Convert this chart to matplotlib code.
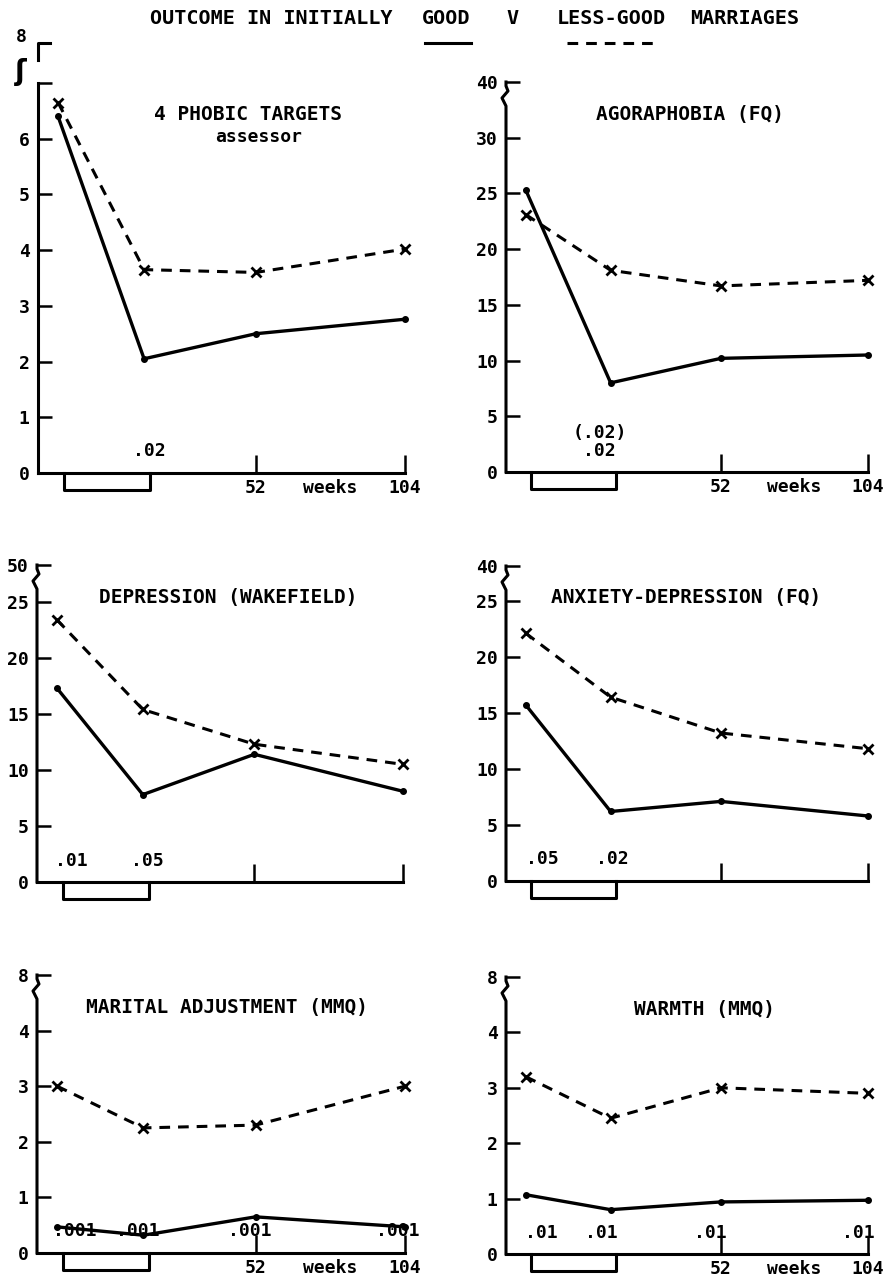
import numpy as np
import matplotlib.pyplot as plt

# --- data ---
weeks = [-17, 13, 52, 104]          # pre, post, 52 wk, 104 wk
treatment = [-15, 15]               # treatment period (bracket under axis)

phobic_good = [6.4, 2.05, 2.5, 2.76]
phobic_less = [6.65, 3.65, 3.6, 4.02]
agora_good = [25.3, 8.0, 10.2, 10.5]
agora_less = [23.1, 18.1, 16.7, 17.2]
depr_good = [17.3, 7.8, 11.4, 8.1]
depr_less = [23.4, 15.4, 12.3, 10.5]
anxdep_good = [15.7, 6.2, 7.1, 5.8]
anxdep_less = [22.1, 16.4, 13.2, 11.8]
marital_good = [0.47, 0.32, 0.65, 0.47]
marital_less = [3.0, 2.25, 2.3, 3.0]
warmth_good = [1.07, 0.8, 0.94, 0.97]
warmth_less = [3.2, 2.45, 3.0, 2.9]

phobic_p = ["", ".02", "", ""]
agora_p = ["", ".02", "", ""]
depr_p = [".01", ".05", "", ""]
anxdep_p = [".05", ".02", "", ""]
marital_p = [".001", ".001", ".001", ".001"]
warmth_p = [".01", ".01", ".01", ".01"]

W, H = 888, 1279
FONT = "DejaVu Sans Mono"
LW = 2.2

fig = plt.figure(figsize=(W / 100, H / 100), dpi=100)
fig.patch.set_facecolor("white")


def make_ax(l, t, r, b):
    return fig.add_axes([l / W, 1 - b / H, (r - l) / W, (b - t) / H]), r - l, b - t


def panel(box, good, less, title, title_x, yticks, ylabels, pvals, pdx,
          week_labels=True, brk=True, sub=None):
    ax, wpx, hpx = make_ax(*box)
    ymax = yticks[-1]
    ax.set_xlim(-24, 104)
    ax.set_ylim(0, ymax)
    for s in ["top", "right", "left"]:
        ax.spines[s].set_visible(False)
    ax.spines["bottom"].set_linewidth(LW)

    # y axis drawn by hand so it can carry the break mark
    if brk:
        xs = [0, 0, 2 / wpx, -4 / wpx, 0, 0]
        ys = [1, 1 - 4 / hpx, 1 - 9 / hpx, 1 - 16 / hpx, 1 - 24 / hpx, 0]
    else:
        xs, ys = [0, 0], [1, 0]
    ax.plot(xs, ys, transform=ax.transAxes, color="k", lw=LW,
            clip_on=False, solid_joinstyle="round")

    ax.set_yticks(yticks)
    ax.set_yticklabels(ylabels)
    ax.tick_params(axis="y", direction="in", length=10, width=1.8, pad=6,
                   labelsize=13)
    ax.set_xticks([52, 104])
    if week_labels:
        ax.set_xticklabels(["52", "104"])
        ax.annotate("weeks", (78, 0), xytext=(0, -4), textcoords="offset points",
                    ha="center", va="top", fontsize=13, fontweight="bold",
                    family=FONT)
    else:
        ax.set_xticklabels(["", ""])
    ax.tick_params(axis="x", direction="in", length=13, width=1.8, pad=4,
                   labelsize=13)
    for lab in ax.get_xticklabels() + ax.get_yticklabels():
        lab.set_fontweight("bold")
        lab.set_family(FONT)

    # treatment bracket under the axis
    d = 17 / hpx
    ax.plot([treatment[0], treatment[0], treatment[1], treatment[1]],
            [0, -d, -d, 0], transform=ax.get_xaxis_transform(),
            color="k", lw=LW, clip_on=False)

    ax.plot(weeks, good, color="k", lw=2.4, marker="o", ms=4,
            clip_on=False, solid_joinstyle="round")
    ax.plot(weeks, less, color="k", lw=2.2, ls=(0, (3.5, 2.6)), marker="x",
            ms=7, mew=2, clip_on=False)

    for x, p, dx in zip(weeks, pvals, pdx):
        if p:
            ax.annotate(p, (x, 0), xytext=(dx, 9), textcoords="offset points",
                        ha="center", va="bottom", fontsize=13,
                        fontweight="bold", family=FONT)

    tx = (title_x - box[0]) / wpx
    ax.text(tx, 1 - 32 / hpx, title, transform=ax.transAxes, ha="center",
            va="center", fontsize=14, fontweight="bold", family=FONT)
    if sub:
        ax.text(tx + 0.03, 1 - 54 / hpx, sub, transform=ax.transAxes,
                ha="center", va="center", fontsize=13, fontweight="bold",
                family=FONT)
    return ax, wpx, hpx


# --- top-left ---
ax1, w1, h1 = panel((38, 83, 405, 473), phobic_good, phobic_less,
                    "4 PHOBIC TARGETS", 248, [0, 1, 2, 3, 4, 5, 6, 7],
                    ["0", "1", "2", "3", "4", "5", "6", ""], phobic_p,
                    [0, 4, 0, 0], brk=False, sub="assessor")
# short stub above the axis standing for 8
ax1.plot([0, 0, 12 / w1], [7.41, 7.72, 7.72], color="k", lw=LW,
         transform=ax1.get_yaxis_transform(), clip_on=False)
ax1.text(-17 / w1, 7.66, "8", transform=ax1.get_yaxis_transform(),
         ha="center", va="bottom", fontsize=13, fontweight="bold", family=FONT)
ax1.text(-17 / w1, 7.2, "ʃ", transform=ax1.get_yaxis_transform(),
         ha="center", va="center", fontsize=20, fontweight="bold")

# --- top-right ---
panel((506, 82, 868, 472), agora_good, agora_less, "AGORAPHOBIA (FQ)", 690,
      [0, 5, 10, 15, 20, 25, 30, 35],
      ["0", "5", "10", "15", "20", "25", "30", "40"], agora_p, [-4, -8, 0, 0])
fig.text(600 / W, 1 - 433 / H, "(.02)", ha="center", va="center",
         fontsize=13, fontweight="bold", family=FONT)

# --- middle ---
panel((37, 565, 403, 882), depr_good, depr_less, "DEPRESSION (WAKEFIELD)", 228,
      [0, 5, 10, 15, 20, 25, 28.3],
      ["0", "5", "10", "15", "20", "25", "50"], depr_p, [10, 3, 0, 0],
      week_labels=False)
panel((506, 566, 868, 881), anxdep_good, anxdep_less,
      "ANXIETY-DEPRESSION (FQ)", 686, [0, 5, 10, 15, 20, 25, 28.1],
      ["0", "5", "10", "15", "20", "25", "40"], anxdep_p, [12, 1, 0, 0],
      week_labels=False)

# --- bottom ---
panel((37, 975, 405, 1253), marital_good, marital_less,
      "MARITAL ADJUSTMENT (MMQ)", 227, [0, 1, 2, 3, 4, 5],
      ["0", "1", "2", "3", "4", "8"], marital_p, [13, -4, -4, -5])
panel((506, 977, 868, 1254), warmth_good, warmth_less, "WARMTH (MMQ)", 704,
      [0, 1, 2, 3, 4, 5], ["0", "1", "2", "3", "4", "8"], warmth_p,
      [11, -7, -8, -7])

# --- heading with the line key ---
ty = 1 - 18 / H
kw = dict(va="center", fontsize=14.5, fontweight="bold", family=FONT)
fig.text(150 / W, ty, "OUTCOME IN INITIALLY", ha="left", **kw)
fig.text(446 / W, ty, "GOOD", ha="center", **kw)
fig.text(512 / W, ty, "V", ha="center", **kw)
fig.text(611 / W, ty, "LESS-GOOD", ha="center", **kw)
fig.text(745 / W, ty, "MARRIAGES", ha="center", **kw)
fig.add_artist(plt.Line2D([425 / W, 471 / W], [1 - 43 / H, 1 - 43 / H],
                          color="k", lw=2.2))
fig.add_artist(plt.Line2D([567 / W, 657 / W], [1 - 43 / H, 1 - 43 / H],
                          color="k", lw=2.2, ls=(0, (3.5, 2.6))))

plt.savefig("out.png", dpi=100)
